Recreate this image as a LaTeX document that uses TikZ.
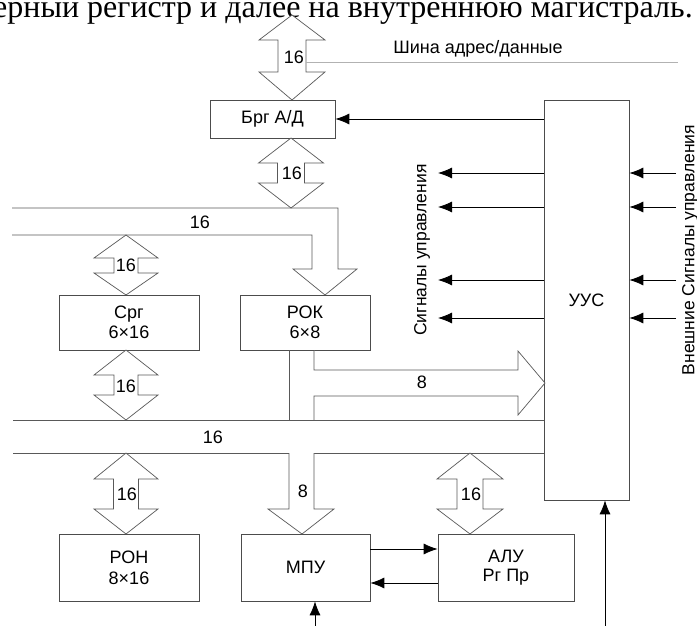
\documentclass[tikz,border=0pt]{standalone}
\usepackage{fontspec}
\setmainfont{Liberation Sans}
\newfontfamily\seriffont{Liberation Serif}
\usetikzlibrary{arrows.meta}
\tikzset{
  box/.style={draw=black!70, line width=0.7pt, fill=white, inner sep=0pt, align=center,
    font=\fontsize{18}{20}\selectfont},
  fat/.style={draw=black!65, line width=0.7pt, fill=white, line join=miter},
  busline/.style={draw=black!65, line width=0.7pt},
  sig/.style={draw=black, line width=0.8pt, -{Latex[length=14pt,width=11pt]}},
  lbl/.style={inner sep=0pt, font=\fontsize{18}{20}\selectfont},
  vlbl/.style={inner sep=0pt, rotate=90, font=\fontsize{17.5}{20}\selectfont}
}
\newcommand{\dblarrowv}[7]{%
  \draw[fat] (#1,#2) -- (#1+#6,#3) -- (#1+#7,#3) -- (#1+#7,#4) -- (#1+#6,#4) -- (#1,#5)
    -- (#1-#6,#4) -- (#1-#7,#4) -- (#1-#7,#3) -- (#1-#6,#3) -- cycle;}
\begin{document}
\begin{tikzpicture}[x=1pt,y=-1pt]
\useasboundingbox (0,0) rectangle (697,626);
\clip (0,0) rectangle (697,626);
\fill[white] (0,0) rectangle (697,626);

% cut-off text line at the top
\node[anchor=base east, inner sep=0pt, font=\seriffont\fontsize{32}{34}\selectfont] (toptext) at (693,18)
  {ерный регистр и далее на внутреннюю магистраль.};

% boxes
\node[box, minimum width=125pt, minimum height=38pt] (brg) at (272.5,119) {Брг А/Д};
\node[box, minimum width=85pt, minimum height=400pt] (uus) at (586.5,300) {УУС};
\node[box, minimum width=140pt, minimum height=55pt] (crg) at (129,322.5) {Срг\\6×16};
\node[box, minimum width=130pt, minimum height=55pt] (rok) at (305,322.5) {РОК\\6×8};
\node[box, minimum width=140pt, minimum height=67pt] (roh) at (129,567.5) {РОН\\[1pt]8×16};
\node[box, minimum width=129pt, minimum height=67pt] (mpu) at (305.5,567.5) {МПУ};
\node[box, minimum width=136pt, minimum height=67pt] (alu) at (506,567.5) {АЛУ\\[-1pt]Рг Пр};

% address/data bus
\dblarrowv{292}{15}{40}{72}{100}{33}{14}
\node[lbl] (l16a) at (294,57) {16};
\coordinate (busend) at (678,62);
\draw[draw=black!30, line width=0.7pt] (306,62) -- (busend);
\node[lbl] (bustext) at (478,49) {Шина адрес/данные};

% Brg -> upper bus
\dblarrowv{291}{138}{163}{183}{208}{32.5}{13.5}
\node[lbl] (l16b) at (292,173) {16};

% upper 16-bit bus into ROK
\draw[busline] (12,208) -- (338,208) -- (338,269) -- (357,269) -- (325,295) -- (293,269)
  -- (312,269) -- (312,235) -- (12,235);
\node[lbl] (l16c) at (200,222) {16};

% Crg arrows
\dblarrowv{126}{235}{258}{273}{295}{32}{12}
\node[lbl] (l16d) at (126,265) {16};
\dblarrowv{126}{350}{375}{395}{420}{32}{12}
\node[lbl] (l16e) at (126,386) {16};

% middle bus
\draw[busline] (13,420) -- (uus.west |- 0,420);
\draw[busline] (13,453) -- (uus.west |- 0,453);
\node[lbl] (l16f) at (213,437) {16};

% ROK outputs
\draw[busline] (289,350) -- (289,420);
\draw[fat] (314,350) -- (314,370) -- (518,370) -- (518,351) -- (545,383) -- (518,415)
  -- (518,396) -- (314,396) -- (314,420);
\node[lbl] (l8a) at (422,382) {8};

% into MPU
\draw[fat] (289,453) -- (289,509) -- (268,509) -- (302,534) -- (334,509) -- (314,509) -- (314,453);
\node[lbl] (l8b) at (303,491) {8};

% ROH and ALU arrows
\dblarrowv{126}{453}{479}{509}{534}{32}{12.5}
\node[lbl] (l16g) at (127,494) {16};
\dblarrowv{470}{453}{479}{509}{534}{33}{13}
\node[lbl] (l16h) at (471,494) {16};

% control arrows
\draw[sig] (uus.west |- brg.east) -- (brg.east);
\foreach \yy [count=\i] in {173,207,280,318}{
  \coordinate (sl\i) at (438,\yy);
  \coordinate (sr\i) at (676,\yy);
  \draw[sig] (uus.west |- sl\i) -- (sl\i);
  \draw[sig] (sr\i) -- (uus.east |- sr\i);
}
\node[vlbl] (sigtext) at (422,250) {Сигналы управления};
\node[vlbl] (exttext) at (690,250) {Внешние Сигналы управления};

% MPU <-> ALU
\draw[sig] (mpu.east |- 0,549) -- (alu.west |- 0,549);
\draw[sig] (alu.west |- 0,583) -- (mpu.east |- 0,583);

% bottom inputs
\coordinate (inm) at (315,626);
\coordinate (inu) at (605,626);
\draw[sig] (inm) -- (mpu.south -| inm);
\draw[sig] (inu) -- (uus.south -| inu);
\end{tikzpicture}
\end{document}
